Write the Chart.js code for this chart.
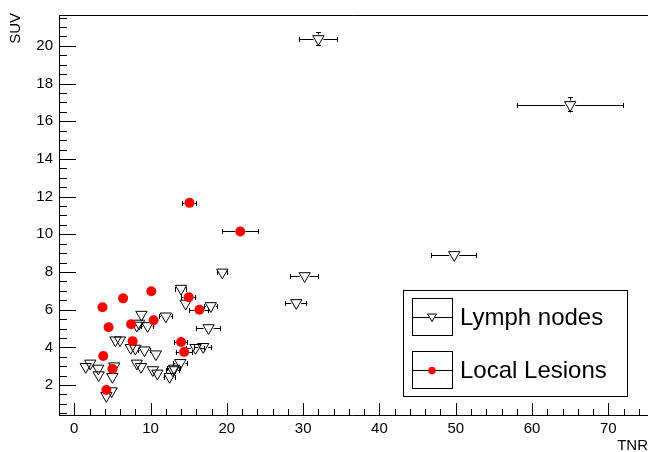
<!DOCTYPE html>
<html>
<head>
<meta charset="utf-8">
<script src="https://cdn.jsdelivr.net/npm/chart.js@4/dist/chart.umd.min.js"></script>
<style>
  html, body { margin: 0; padding: 0; background: #fff; }
  #chart { display: block; }
</style>
</head>
<body>
<canvas id="chart" width="648" height="452"></canvas>
<script>
// Lymph nodes (open triangles)
const lymphX    = [32.0, 65.0, 49.8, 30.2, 29.1, 19.4, 14.0, 14.6, 17.9, 8.8, 12.0, 8.2, 8.5, 9.6, 17.6, 5.4, 6.0, 7.4, 8.0, 9.2, 10.7, 15.9, 16.9, 1.5, 2.1, 3.15, 3.2, 5.25, 5.0, 8.2, 8.75, 10.3, 10.9, 12.5, 12.9, 13.1, 13.9, 4.2, 4.9]
const lymphY    = [20.37, 16.87, 8.91, 7.79, 6.36, 7.98, 7.12, 6.33, 6.2, 5.74, 5.65, 5.16, 5.27, 5.14, 5.03, 4.38, 4.38, 3.98, 3.94, 3.85, 3.64, 3.98, 4.03, 2.97, 3.15, 2.88, 2.53, 3.0, 2.44, 3.15, 2.97, 2.8, 2.62, 2.44, 2.8, 2.88, 3.18, 1.43, 1.68]
const lymphXErr = [2.56, 7.0, 3.0, 1.88, 1.44, 0.7, 0.8, 0.5, 0.9, 0.4, 0.9, 0.3, 0.4, 0.9, 1.6, 0.3, 0.3, 0.4, 0.4, 0.8, 0.6, 1.2, 1.2, 0.2, 0.2, 0.2, 0.2, 0.3, 0.3, 0.4, 0.5, 0.6, 0.6, 0.8, 0.9, 0.9, 1.0, 0.2, 0.3]
const lymphYErr = [0.35, 0.4, 0.1, 0.1, 0.1, 0.1, 0.1, 0.1, 0.1, 0.1, 0.1, 0.1, 0.1, 0.1, 0.1, 0.1, 0.1, 0.1, 0.1, 0.1, 0.1, 0.1, 0.1, 0.1, 0.1, 0.1, 0.1, 0.1, 0.1, 0.1, 0.1, 0.1, 0.1, 0.1, 0.1, 0.1, 0.1, 0.1, 0.1]

// Local lesions (full red circles)
const lesionX    = [15.1, 21.76, 10.1, 6.4, 3.7, 15.0, 16.4, 7.45, 4.5, 10.4, 7.65, 14.0, 14.4, 3.8, 5.0, 4.2]
const lesionY    = [11.67, 10.15, 6.98, 6.6, 6.13, 6.66, 6.0, 5.23, 5.07, 5.44, 4.33, 4.28, 3.75, 3.54, 2.85, 1.74]
const lesionXErr = [0.96, 2.4, 0.6, 0.2, 0.2, 1.0, 1.3, 0.3, 0.2, 0.6, 0.3, 0.9, 1.1, 0.2, 0.2, 0.2]
const lesionYErr = [0.2, 0.1, 0.1, 0.1, 0.1, 0.1, 0.1, 0.1, 0.1, 0.1, 0.1, 0.1, 0.1, 0.1, 0.1, 0.1]

const xMajorTicks = [0, 10, 20, 30, 40, 50, 60, 70]
const yMajorTicks = [2, 4, 6, 8, 10, 12, 14, 16, 18, 20]
const yTitle = 'SUV'

const FONT = "'Liberation Sans', Arial, Helvetica, sans-serif"

function toPoints(xs, ys, xe, ye) {
  return xs.map((x, i) => ({ x: x, y: ys[i], xErr: xe[i], yErr: ye[i] }))
}

// error bars, ROOT style: leave a gap where the marker sits
const errorBars = {
  id: 'errorBars',
  beforeDatasetsDraw(chart) {
    const { ctx, chartArea, scales: { x, y } } = chart
    ctx.save()
    ctx.beginPath()
    ctx.rect(chartArea.left, chartArea.top, chartArea.width, chartArea.height)
    ctx.clip()
    ctx.strokeStyle = '#000'
    ctx.lineWidth = 1
    chart.data.datasets.forEach(ds => {
      const gap = ds.markerGap
      ds.data.forEach(p => {
        const px = x.getPixelForValue(p.x)
        const py = Math.round(y.getPixelForValue(p.y)) + 0.5
        const x0 = x.getPixelForValue(p.x - p.xErr)
        const x1 = x.getPixelForValue(p.x + p.xErr)
        const y0 = y.getPixelForValue(p.y - p.yErr)
        const y1 = y.getPixelForValue(p.y + p.yErr)
        ctx.beginPath()
        if (px - x0 > gap) {
          ctx.moveTo(x0, py); ctx.lineTo(px - gap, py)
          ctx.moveTo(px + gap, py); ctx.lineTo(x1, py)
          ctx.moveTo(Math.round(x0) + 0.5, py - 2.5); ctx.lineTo(Math.round(x0) + 0.5, py + 2.5)
          ctx.moveTo(Math.round(x1) - 0.5, py - 2.5); ctx.lineTo(Math.round(x1) - 0.5, py + 2.5)
        }
        const pxr = Math.round(px) + 0.5
        if (y0 - py > gap) {
          ctx.moveTo(pxr, y1); ctx.lineTo(pxr, py - gap)
          ctx.moveTo(pxr, py + gap); ctx.lineTo(pxr, y0)
          ctx.moveTo(pxr - 2.5, Math.round(y1) + 0.5); ctx.lineTo(pxr + 2.5, Math.round(y1) + 0.5)
          ctx.moveTo(pxr - 2.5, Math.round(y0) - 0.5); ctx.lineTo(pxr + 2.5, Math.round(y0) - 0.5)
        }
        ctx.stroke()
      })
    })
    ctx.restore()
  }
}

// axis lines, frame top, inward ticks, y title and the legend box
const rootFrame = {
  id: 'rootFrame',
  afterDatasetsDraw(chart) {
    const { ctx, chartArea: { left, top, right, bottom }, scales: { x, y } } = chart
    ctx.save()
    ctx.strokeStyle = '#000'
    ctx.lineWidth = 1
    ctx.beginPath()
    ctx.moveTo(left + 0.5, top + 0.5); ctx.lineTo(right, top + 0.5)
    ctx.moveTo(left + 0.5, top); ctx.lineTo(left + 0.5, bottom + 0.5)
    ctx.moveTo(left, bottom + 0.5); ctx.lineTo(right, bottom + 0.5)
    for (let v = -2; v <= x.max; v += 2) {
      const px = Math.round(x.getPixelForValue(v)) + 0.5
      const len = xMajorTicks.includes(v) ? 12 : 6
      ctx.moveTo(px, bottom); ctx.lineTo(px, bottom - len)
    }
    for (let v = 0.5; v <= y.max; v += 0.5) {
      const py = Math.round(y.getPixelForValue(v)) + 0.5
      const len = yMajorTicks.includes(v) ? 17 : 8
      ctx.moveTo(left, py); ctx.lineTo(left + len, py)
    }
    ctx.stroke()

    // y title, rotated and flush with the top of the frame
    ctx.translate(15.5, 13)
    ctx.rotate(-Math.PI / 2)
    ctx.fillStyle = '#000'
    ctx.font = '15px ' + FONT
    ctx.textAlign = 'right'
    ctx.textBaseline = 'middle'
    ctx.fillText(yTitle, 0, 0)
    ctx.restore()
  },
  afterDraw(chart) {
    const { ctx } = chart
    const bx = 403, by = 290, bw = 224, bh = 106
    ctx.save()
    ctx.fillStyle = '#fff'
    ctx.fillRect(bx, by, bw, bh)
    ctx.strokeStyle = '#000'
    ctx.lineWidth = 1
    ctx.strokeRect(bx + 0.5, by + 0.5, bw, bh)
    const rows = [by + 27, by + 80]
    chart.data.datasets.forEach((ds, i) => {
      const cy = rows[i]
      ctx.strokeStyle = '#000'
      ctx.strokeRect(412.5, cy - 18.5, 40, 37)
      ctx.beginPath()
      ctx.moveTo(412, cy + 0.5); ctx.lineTo(452, cy + 0.5)
      ctx.stroke()
      if (ds.pointStyle === 'triangle') {
        ctx.fillStyle = '#fff'
        ctx.beginPath()
        ctx.moveTo(427.5, cy - 3); ctx.lineTo(436.5, cy - 3); ctx.lineTo(432, cy + 4.5); ctx.closePath()
        ctx.fill(); ctx.stroke()
      } else {
        ctx.fillStyle = ds.backgroundColor
        ctx.beginPath()
        ctx.arc(432, cy + 0.5, 3.8, 0, Math.PI * 2)
        ctx.fill()
      }
      ctx.fillStyle = '#000'
      ctx.font = '24px ' + FONT
      ctx.textBaseline = 'middle'
      ctx.textAlign = 'left'
      ctx.fillText(ds.label, 460, cy + 1)
    })
    ctx.restore()
  }
}

new Chart(document.getElementById('chart'), {
  type: 'scatter',
  data: {
    datasets: [
      {
        label: 'Lymph nodes',
        data: toPoints(lymphX, lymphY, lymphXErr, lymphYErr),
        pointStyle: 'triangle',
        rotation: 180,
        radius: 6.5,
        borderWidth: 1,
        borderColor: '#000',
        backgroundColor: 'rgba(0,0,0,0)',
        markerGap: 5,
        order: 1
      },
      {
        label: 'Local Lesions',
        data: toPoints(lesionX, lesionY, lesionXErr, lesionYErr),
        pointStyle: 'circle',
        radius: 5,
        borderWidth: 0,
        backgroundColor: '#ff0000',
        markerGap: 5,
        order: 0
      }
    ]
  },
  options: {
    responsive: false,
    animation: false,
    events: [],
    layout: { autoPadding: false, padding: { top: 14, right: 0, left: 0, bottom: 0 } },
    plugins: { legend: { display: false }, tooltip: { enabled: false } },
    scales: {
      x: {
        type: 'linear',
        min: -2,
        max: 75.2,
        afterBuildTicks: s => { s.ticks = xMajorTicks.map(v => ({ value: v })) },
        afterFit: s => { s.height = 37 },
        grid: { display: false, drawTicks: false },
        border: { display: false },
        ticks: { color: '#000', padding: 5, font: { family: FONT, size: 15 }, maxRotation: 0 },
        title: { display: true, text: 'TNR', align: 'end', color: '#000', padding: { top: 0, bottom: -3 }, font: { family: FONT, size: 15 } }
      },
      y: {
        type: 'linear',
        min: 0.41,
        max: 21.64,
        afterBuildTicks: s => { s.ticks = yMajorTicks.map(v => ({ value: v })) },
        afterFit: s => { s.width = 59 },
        grid: { display: false, drawTicks: false },
        border: { display: false },
        ticks: { color: '#000', padding: 6, font: { family: FONT, size: 15 } }
      }
    }
  },
  plugins: [errorBars, rootFrame]
})
</script>
</body>
</html>
